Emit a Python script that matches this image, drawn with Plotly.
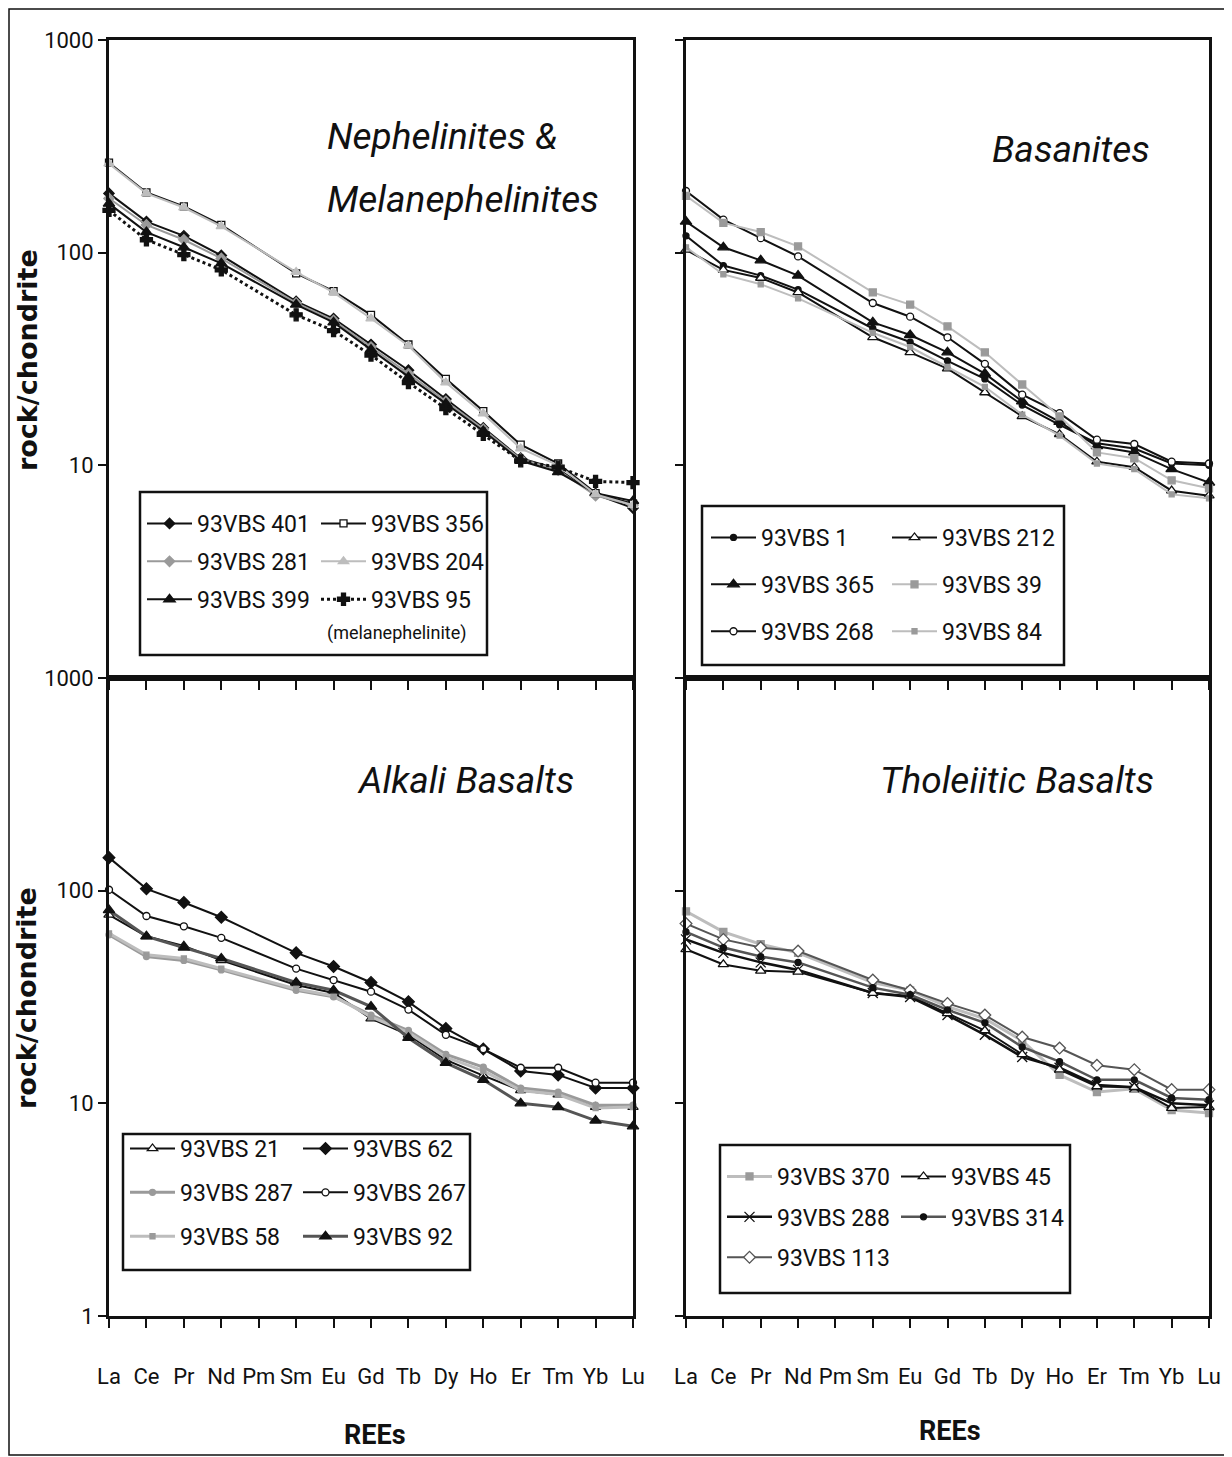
import plotly.graph_objects as go

# page body has an 8px margin: the figure is sized/offset to fill the 1232x1457 window
OFF = 8
W, H = 1232 - OFF, 1457 - OFF
REE = ["La", "Ce", "Pr", "Nd", "Pm", "Sm", "Eu", "Gd", "Tb", "Dy", "Ho", "Er", "Tm", "Yb", "Lu"]
Y_TICKS_TOP = [1, 10, 100, 1000]
Y_LABELS_TOP = ["", "10", "100", "1000"]
Y_TICKS_BOT = [1, 10, 100, 1000]
Y_LABELS_BOT = ["1", "10", "100", "1000"]

# ---- Nephelinites & Melanephelinites ----
neph_401 = [190, 140, 120, 97, None, 59, 49, 37, 28, 20.5, 15, 10.8, 9.6, 7.3, 6.3]
neph_356 = [265, 192, 165, 135, None, 80, 66, 51, 37, 25.5, 18, 12.5, 10.2, 7.4, 6.6]
neph_281 = [180, 135, 115, 94, None, 58, 48, 36, 27, 20, 14.8, 10.7, 9.5, 7.2, 6.5]
neph_204 = [262, 190, 163, 133, None, 81, 65, 49, 36.5, 24.5, 17.5, 12, 10, 7.3, 6.5]
neph_399 = [170, 125, 106, 89, None, 57, 47, 35, 26, 19.5, 14.5, 10.5, 9.3, 7.4, 6.8]
neph_95 = [158, 115, 98, 83, None, 51, 43, 33, 24.5, 18.5, 14, 10.5, 9.8, 8.4, 8.3]

# ---- Basanites ----
bas_1 = [120, 87, 78, 67, None, 44, 38, 31, 25.5, 19.2, 15.5, 12.7, 12, 10.2, 10]
bas_212 = [103, 83, 76, 65, None, 40, 34, 28.5, 22, 17, 14, 10.4, 9.8, 7.6, 7.2]
bas_365 = [140, 106, 92, 78, None, 47, 41, 34, 27, 20, 16, 12.3, 11.5, 9.6, 8.3]
bas_39 = [185, 138, 125, 107, None, 65, 57, 45, 34, 24, 17, 11.5, 10.8, 8.5, 7.8]
bas_268 = [195, 143, 117, 96, None, 58, 50, 40, 30, 21.5, 17.6, 13.2, 12.6, 10.4, 10.2]
bas_84 = [106, 79, 71, 61, None, 42, 36, 29, 23.4, 17.3, 13.8, 10.2, 9.6, 7.3, 7.0]

# ---- Alkali Basalts ----
alk_21 = [77, 61, 55, 47, None, 36, 33, 25, 21, 16, 13.5, 11.5, 11, 9.6, 9.6]
alk_62 = [143, 102, 88, 75, None, 51, 44, 37, 30, 22.5, 18, 14.2, 13.6, 11.8, 11.8]
alk_287 = [62, 49, 47, 42.4, None, 34, 31.7, 26, 22, 17, 14.8, 11.8, 11.3, 9.8, 9.8]
alk_267 = [101, 76, 68, 60, None, 43, 38, 33.5, 27.6, 21, 18, 14.7, 14.7, 12.5, 12.5]
alk_58 = [63, 50, 48, 43, None, 34.5, 32, 25.5, 21.5, 16.5, 14.2, 11.5, 11, 9.5, 9.6]
alk_92 = [81, 61, 54, 48, None, 37, 34, 28.5, 20.3, 15.5, 12.9, 10, 9.6, 8.3, 7.8]

# ---- Tholeiitic Basalts ----
tho_370 = [80, 64, 56, 51, None, 37, 34, 28.5, 25, 19.7, 13.6, 11.3, 11.7, 9.3, 9.0]
tho_45 = [53, 45, 42, 41.5, None, 33, 32, 26.5, 22, 17, 14.4, 12, 11.9, 9.5, 9.6]
tho_288 = [59, 51, 46, 42.4, None, 33, 31.6, 26, 21, 16.5, 14.7, 12.2, 11.9, 10, 9.8]
tho_314 = [64, 54, 49, 46, None, 35, 32.4, 27.5, 23.9, 18.4, 15.7, 12.9, 12.9, 10.6, 10.4]
tho_113 = [70, 59, 54, 52, None, 38, 34, 29.5, 26, 20.5, 18.2, 15.1, 14.4, 11.6, 11.6]

FONT = "Roboto, sans-serif"
BLACK, GRAY, LGRAY, DGRAY = "#111111", "#9a9a9a", "#bdbdbd", "#555555"


def px(x):
    return (x - OFF) / W


def py(y):
    return 1 - (y - OFF) / H


fig = go.Figure()


def add(name, vals, axis, legend, color, symbol, mcolor, mline, size=8, dash="solid", lw=2):
    fig.add_trace(go.Scatter(
        x=REE, y=vals, name=name, mode="lines+markers", connectgaps=True,
        xaxis="x" + axis, yaxis="y" + axis, legend=legend, legendgroup=name,
        line=dict(color=color, width=lw, dash=dash),
        marker=dict(symbol=symbol, size=size, color=mcolor, line=dict(color=mline, width=1.3)),
        cliponaxis=False, showlegend=True,
    ))


# TL
add("93VBS 401", neph_401, "", "legend", BLACK, "diamond", BLACK, BLACK)
add("93VBS 281", neph_281, "", "legend", GRAY, "diamond", GRAY, GRAY)
add("93VBS 399", neph_399, "", "legend", BLACK, "triangle-up", BLACK, BLACK, size=10)
add("93VBS 356", neph_356, "", "legend2", BLACK, "square", "white", BLACK, size=7)
add("93VBS 204", neph_204, "", "legend2", LGRAY, "triangle-up", LGRAY, LGRAY, size=9)
add("93VBS 95", neph_95, "", "legend2", BLACK, "cross", BLACK, BLACK, size=10, dash="dot", lw=3)
# TR
add("93VBS 1", bas_1, "2", "legend3", BLACK, "circle", BLACK, BLACK, size=6)
add("93VBS 365", bas_365, "2", "legend3", BLACK, "triangle-up", BLACK, BLACK, size=10)
add("93VBS 268", bas_268, "2", "legend3", BLACK, "circle", "white", BLACK, size=7)
add("93VBS 212", bas_212, "2", "legend4", BLACK, "triangle-up", "white", BLACK, size=9)
add("93VBS 39", bas_39, "2", "legend4", LGRAY, "square", GRAY, GRAY, size=7)
add("93VBS 84", bas_84, "2", "legend4", LGRAY, "square", GRAY, GRAY, size=5)
# BL
add("93VBS 21", alk_21, "3", "legend5", BLACK, "triangle-up", "white", BLACK, size=9)
add("93VBS 287", alk_287, "3", "legend5", GRAY, "circle", GRAY, GRAY, size=6, lw=3)
add("93VBS 58", alk_58, "3", "legend5", LGRAY, "square", GRAY, GRAY, size=5, lw=3)
add("93VBS 62", alk_62, "3", "legend6", BLACK, "diamond", BLACK, BLACK, size=9)
add("93VBS 267", alk_267, "3", "legend6", BLACK, "circle", "white", BLACK, size=7)
add("93VBS 92", alk_92, "3", "legend6", DGRAY, "triangle-up", BLACK, BLACK, size=10, lw=3)
# BR
add("93VBS 370", tho_370, "4", "legend7", LGRAY, "square", GRAY, GRAY, size=7, lw=3)
add("93VBS 288", tho_288, "4", "legend7", BLACK, "x-thin", BLACK, BLACK, size=10, lw=2.5)
add("93VBS 113", tho_113, "4", "legend7", DGRAY, "diamond", "white", DGRAY, size=9)
add("93VBS 45", tho_45, "4", "legend8", BLACK, "triangle-up", "white", BLACK, size=9)
add("93VBS 314", tho_314, "4", "legend8", DGRAY, "circle", BLACK, BLACK, size=6, lw=2.5)

XL = [px(109), px(633)]
XR = [px(686), px(1209)]
YT = [py(678), py(40)]
YB = [py(1316), py(678)]

xtickfont = dict(family=FONT, size=22, color=BLACK)
ytickfont = dict(family=FONT, size=22, color=BLACK)


def xax(domain, anchor, labels):
    return dict(domain=domain, anchor=anchor, type="category", categoryorder="array",
                categoryarray=REE, range=[0, 14], showline=True, mirror=True,
                linecolor=BLACK, linewidth=3, ticks="outside", ticklen=9, tickwidth=2,
                tickcolor=BLACK, showticklabels=labels, tickfont=xtickfont, tickangle=0,
                ticklabelstandoff=30, showgrid=False, zeroline=False, automargin=False)


def yax(domain, anchor, vals, text, labels):
    return dict(domain=domain, anchor=anchor, type="log", range=[0, 3], showline=True,
                mirror=True, linecolor=BLACK, linewidth=3, ticks="outside", ticklen=8,
                tickwidth=2, tickcolor=BLACK, tickvals=vals, ticktext=text,
                showticklabels=labels, tickfont=ytickfont, showgrid=False, zeroline=False,
                automargin=False)


legfont = dict(family=FONT, size=23, color=BLACK)


def leg(x, y, gap):
    return dict(x=px(x), y=py(y), xanchor="left", yanchor="top", bgcolor="rgba(0,0,0,0)",
                borderwidth=0, font=legfont, tracegroupgap=gap, itemwidth=45,
                traceorder="grouped", orientation="v")


fig.update_layout(
    width=W, height=H, margin=dict(l=0, r=0, t=0, b=0, autoexpand=False),
    paper_bgcolor="white", plot_bgcolor="white", showlegend=True,
    xaxis=xax(XL, "y", False), yaxis=yax(YT, "x", Y_TICKS_TOP, Y_LABELS_TOP, True),
    xaxis2=xax(XR, "y2", False), yaxis2=yax(YT, "x2", Y_TICKS_TOP, Y_LABELS_TOP, False),
    xaxis3=xax(XL, "y3", True), yaxis3=yax(YB, "x3", Y_TICKS_BOT, Y_LABELS_BOT, True),
    xaxis4=xax(XR, "y4", True), yaxis4=yax(YB, "x4", Y_TICKS_BOT, Y_LABELS_BOT, False),
    legend=leg(142, 502, 5), legend2=leg(316, 502, 5),
    legend3=leg(706, 516, 14), legend4=leg(887, 516, 14),
    legend5=leg(125, 1127, 11), legend6=leg(298, 1127, 11),
    legend7=leg(722, 1155, 7.5), legend8=leg(896, 1155, 7.5),
)

shapes = [
    dict(type="rect", xref="paper", yref="paper", x0=px(9), x1=px(1226), y0=py(1455), y1=py(9),
         line=dict(color=BLACK, width=1.5)),
    dict(type="rect", xref="paper", yref="paper", x0=px(140), x1=px(487), y0=py(655), y1=py(492),
         line=dict(color=BLACK, width=2.5)),
    dict(type="rect", xref="paper", yref="paper", x0=px(702), x1=px(1064), y0=py(665), y1=py(506),
         line=dict(color=BLACK, width=2.5)),
    dict(type="rect", xref="paper", yref="paper", x0=px(123), x1=px(470), y0=py(1270), y1=py(1134),
         line=dict(color=BLACK, width=2.5)),
    dict(type="rect", xref="paper", yref="paper", x0=px(720), x1=px(1070), y0=py(1293), y1=py(1145),
         line=dict(color=BLACK, width=2.5)),
]
fig.update_layout(shapes=shapes)

title_font = dict(family=FONT, size=37, color=BLACK, style="italic")
ann = []


def text(x, y, s, font, xanchor="left", angle=0):
    ann.append(dict(x=px(x), y=py(y), xref="paper", yref="paper", text=s, showarrow=False,
                    xanchor=xanchor, yanchor="middle", font=font, textangle=angle))


text(325, 137, "<i>Nephelinites &</i>", title_font)
text(325, 200, "<i>Melanephelinites</i>", title_font)
text(990, 150, "<i>Basanites</i>", title_font)
text(355, 780, "<i>Alkali Basalts</i>", title_font)
text(878, 780, "<i>Tholeiitic Basalts</i>", title_font)
text(396, 633, "(melanephelinite)", dict(family=FONT, size=18, color=BLACK), xanchor="center")
ytitle = dict(family="DejaVu Sans, sans-serif", size=27, color=BLACK, weight="bold")
text(27, 360, "rock/chondrite", ytitle, xanchor="center", angle=-90)
text(27, 998, "rock/chondrite", ytitle, xanchor="center", angle=-90)
xtitle = dict(family=FONT, size=27, color=BLACK, weight="bold")
text(375, 1435, "REEs", xtitle, xanchor="center")
text(950, 1431, "REEs", xtitle, xanchor="center")
fig.update_layout(annotations=ann)

fig.write_html("out.html")
